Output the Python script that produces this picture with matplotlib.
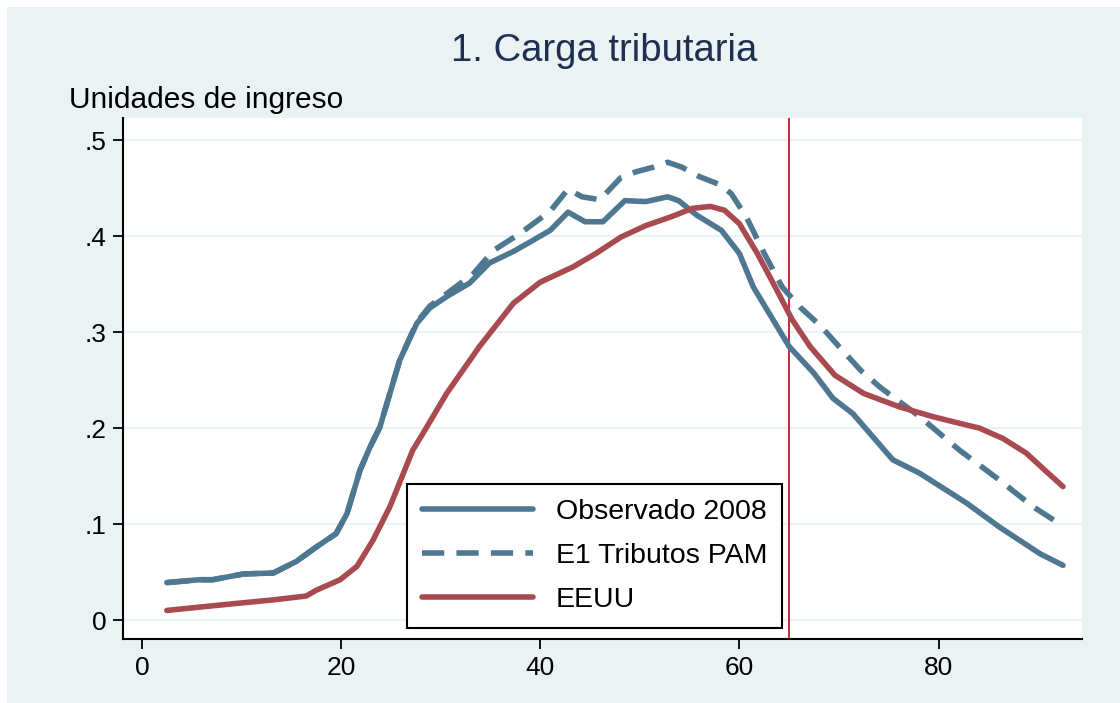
import matplotlib.pyplot as plt
from matplotlib.patches import Rectangle

plt.rcParams['font.family'] = ['Liberation Sans', 'DejaVu Sans']

# Observado 2008 (solid blue)
x_obs = [2.5, 5.8, 7.1, 10.2, 13.2, 15.5, 17.5, 19.5, 20.6, 21.9, 22.9, 23.9, 25.9,
         27.6, 28.9, 30.6, 32.9, 34.9, 37.3, 39.0, 41.0, 42.8, 44.5, 46.3, 48.5,
         50.6, 52.8, 53.9, 55.7, 58.2, 60.0, 61.4, 63.2, 65.0, 67.5, 69.4, 71.4,
         75.4, 78.1, 82.8, 86.1, 90.2, 92.5]
y_obs = [0.039, 0.042, 0.042, 0.048, 0.049, 0.061, 0.076, 0.090, 0.111, 0.156, 0.180,
         0.201, 0.271, 0.309, 0.325, 0.337, 0.351, 0.372, 0.384, 0.394, 0.406, 0.425,
         0.415, 0.415, 0.437, 0.436, 0.441, 0.437, 0.422, 0.406, 0.382, 0.347, 0.316,
         0.285, 0.257, 0.231, 0.215, 0.167, 0.153, 0.122, 0.097, 0.069, 0.057]

# E1 Tributos PAM (dashed blue)
x_e1 = [2.5, 5.8, 7.1, 10.2, 13.2, 15.5, 17.5, 19.5, 20.6, 21.9, 22.9, 23.9, 25.9,
        27.6, 28.9, 30.6, 33.3, 35.3, 38.0, 41.0, 42.8, 44.2, 46.0, 48.1, 49.6,
        51.4, 52.8, 54.2, 56.0, 58.2, 59.2, 60.7, 62.5, 64.3, 66.1, 68.2, 70.0,
        72.2, 74.2, 78.1, 82.1, 86.1, 89.5, 92.5]
y_e1 = [0.039, 0.042, 0.042, 0.048, 0.049, 0.061, 0.076, 0.090, 0.111, 0.156, 0.180,
        0.201, 0.271, 0.310, 0.327, 0.340, 0.361, 0.385, 0.403, 0.426, 0.449, 0.441,
        0.438, 0.461, 0.467, 0.472, 0.477, 0.472, 0.462, 0.453, 0.444, 0.420, 0.382,
        0.347, 0.326, 0.306, 0.285, 0.260, 0.242, 0.212, 0.177, 0.146, 0.118, 0.098]

# EEUU (solid red)
x_us = [2.5, 9.2, 13.2, 16.5, 17.5, 19.9, 21.6, 23.2, 24.9, 27.2, 28.2, 30.6, 33.9,
        37.3, 40.0, 43.3, 45.6, 48.1, 50.6, 53.1, 55.3, 57.1, 58.5, 60.0, 61.8,
        63.6, 65.3, 67.1, 69.6, 72.5, 76.1, 79.4, 82.1, 84.1, 86.5, 88.8, 90.8,
        92.5]
y_us = [0.010, 0.017, 0.021, 0.025, 0.031, 0.042, 0.056, 0.083, 0.118, 0.177, 0.194,
        0.236, 0.285, 0.330, 0.352, 0.368, 0.382, 0.399, 0.411, 0.420, 0.429, 0.431,
        0.427, 0.413, 0.382, 0.347, 0.313, 0.285, 0.255, 0.236, 0.222, 0.212, 0.205,
        0.200, 0.189, 0.174, 0.155, 0.139]

x_ticks = [0, 20, 40, 60, 80]
y_ticks = [0, 0.1, 0.2, 0.3, 0.4, 0.5]
y_ticklabels = ['0', '.1', '.2', '.3', '.4', '.5']
ref_age = 65

blue = '#4E7891'
red = '#A84A4F'
bg = '#EAF2F3'
navy = '#1F2F4F'

fig = plt.figure(figsize=(11.2, 7.03), dpi=100, facecolor='white')
fig.patches.append(Rectangle((7 / 1120, 0), 1, 1 - 7 / 703, transform=fig.transFigure,
                             facecolor=bg, edgecolor='none', zorder=-10))
ax = fig.add_axes([0.1098, 0.091, 0.8562, 0.741])
ax.set_facecolor('white')

lw = 4
ax.plot(x_obs, y_obs, color=blue, lw=lw, label='Observado 2008', zorder=3,
        solid_joinstyle='round', solid_capstyle='round')
ax.plot(x_e1, y_e1, color=blue, lw=lw, dashes=(4, 2.2), label='E1 Tributos PAM', zorder=3)
ax.plot(x_us, y_us, color=red, lw=lw, label='EEUU', zorder=3,
        solid_joinstyle='round', solid_capstyle='round')
ax.axvline(ref_age, color='#D0213F', lw=1.4, zorder=2)

ax.set_xlim(-1.9, 94.4)
ax.set_ylim(-0.0198, 0.523)
ax.set_xticks(x_ticks)
ax.set_yticks(y_ticks)
ax.set_yticklabels(y_ticklabels)
ax.grid(axis='y', color=bg, lw=1.5, zorder=0)
ax.set_axisbelow(True)
ax.tick_params(axis='both', labelsize=19, length=7, width=1.3, colors='black', pad=5)
for s in ['top', 'right']:
    ax.spines[s].set_visible(False)
for s in ['left', 'bottom']:
    ax.spines[s].set_linewidth(1.5)

fig.text(0.539, 0.927, '1. Carga tributaria', ha='center', va='center',
         fontsize=27.5, color=navy)
fig.text(0.062, 0.858, 'Unidades de ingreso', ha='left', va='center',
         fontsize=21.5, color='black')

leg = ax.legend(loc='lower left', bbox_to_anchor=(0.296, 0.021), fontsize=20.5,
                frameon=True, fancybox=False, framealpha=1, edgecolor='black',
                handlelength=3.9, handletextpad=0.8, borderpad=0.53,
                labelspacing=0.63, borderaxespad=0)
leg.get_frame().set_linewidth(1.5)

plt.savefig('out.png', dpi=100, facecolor=fig.get_facecolor())
